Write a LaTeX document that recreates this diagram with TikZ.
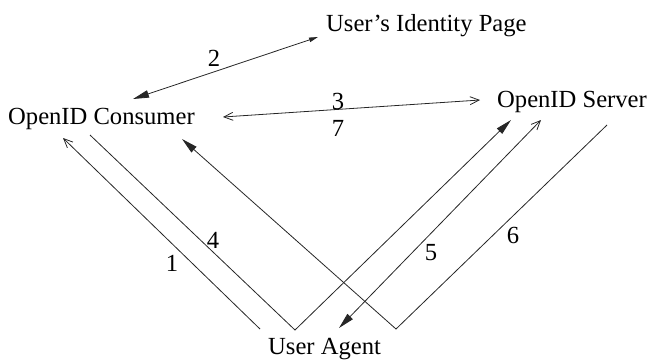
\documentclass[tikz,border=0pt]{standalone}
\usepackage{fontspec}
\setmainfont{Liberation Serif}
\usetikzlibrary{arrows.meta}
\tikzset{
  bigtri/.tip={Triangle[length=16bp,width=7.5bp]},
  smalltri/.tip={Triangle[length=9bp,width=4.5bp]},
  openb/.tip={Straight Barb[length=9bp,width=8bp,line width=0.8bp]},
  lbl/.style={inner sep=0pt, anchor=base west, font=\fontsize{24.6bp}{29bp}\selectfont},
  num/.style={inner sep=0pt, anchor=center, font=\fontsize{24.6bp}{29bp}\selectfont},
  conn/.style={line width=0.8bp, draw=black!85},
}
\begin{document}
\begin{tikzpicture}[x=1bp,y=-1bp]
\useasboundingbox (0,0) rectangle (649,360);
% text nodes
\node[lbl] (idp)  at (326,31)  {User’s Identity Page};
\node[lbl] (cons) at (8,124)   {OpenID Consumer};
\node[lbl] (serv) at (497,107) {OpenID Server};
\node[lbl] (ua)   at (268,354) {User Agent};
% connector endpoints
\coordinate (c2a) at (318,37);
\coordinate (c2b) at (133,99);
\coordinate (c3a) at (223,117);
\coordinate (c3b) at (480,100);
\coordinate (c1a) at (260,329);
\coordinate (c1b) at (63,138);
\coordinate (c4a) at (90,135);
\coordinate (c4v) at (295,330);
\coordinate (c4b) at (511,120);
\coordinate (c5a) at (541,120);
\coordinate (c5b) at (339,328);
\coordinate (c6a) at (607,125);
\coordinate (c6v) at (396,329);
\coordinate (c6b) at (182,139);
% connectors
\draw[conn, smalltri-bigtri] (c2a) -- (c2b);
\draw[conn, openb-openb] (c3a) -- (c3b);
\draw[conn, -openb] (c1a) -- (c1b);
\draw[conn, -bigtri] (c4a) -- (c4v) -- (c4b);
\draw[conn, openb-bigtri] (c5a) -- (c5b);
\draw[conn, -bigtri] (c6a) -- (c6v) -- (c6b);
% labels
\node[num] (n2) at (214,58)  {2};
\node[num] (n3) at (338,101) {3};
\node[num] (n7) at (338,128) {7};
\node[num] (n1) at (172,263) {1};
\node[num] (n4) at (213,240) {4};
\node[num] (n5) at (431,253) {5};
\node[num] (n6) at (513,235) {6};
\end{tikzpicture}
\end{document}
